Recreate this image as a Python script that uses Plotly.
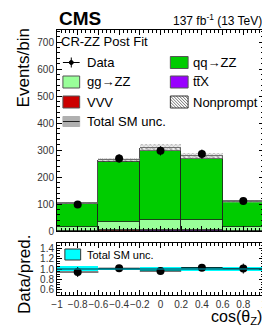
import numpy as np
import plotly.graph_objects as go

# ---- data ----
bin_edges = [-1.0, -0.6, -0.2, 0.2, 0.6, 1.0]
qq_zz = [86, 224, 255, 228, 92]
gg_zz = [13, 30, 38, 35, 13]
vvv = [0.5, 1, 2, 2, 0.5]
ttx = [0.5, 1, 2, 2, 0.5]
nonprompt = [4, 9, 12, 11, 4]
total_unc = [5, 7, 12, 12, 5]
data = [98, 269, 297, 285, 111]
data_err = [10, 16, 17, 17, 10.5]
xtick_vals = [-1, -0.8, -0.6, -0.4, -0.2, 0, 0.2, 0.4, 0.6, 0.8, 1]
xtick_text = ["\u22121", "\u22120.8", "\u22120.6", "\u22120.4", "\u22120.2", "0", "0.2", "0.4", "0.6", "0.8", "1"]

edges = np.array(bin_edges)
centers = 0.5 * (edges[1:] + edges[:-1])
widths = edges[1:] - edges[:-1]
total = np.array(qq_zz) + np.array(gg_zz) + np.array(vvv) + np.array(ttx) + np.array(nonprompt)
unc = np.array(total_unc)
ratio = np.array(data) / total
ratio_err = np.array(data_err) / total
ratio_unc = unc / total

FONT = "Liberation Sans, Arial, Helvetica, sans-serif"
C_QQ, C_GG, C_VVV, C_TTX, C_CYAN = "#00cc00", "#99ff99", "#cc0000", "#9900ff", "#00ffff"
fig = go.Figure()

line_dark = dict(color="#222222", width=0.8)

def stack_bar(y, color, pattern=None):
    fig.add_trace(go.Bar(
        x=centers, y=y, width=widths, showlegend=False,
        marker=dict(color=color, line=line_dark, pattern=pattern or {}),
        xaxis="x", yaxis="y", hoverinfo="skip"))

stack_bar(ttx, C_TTX)
stack_bar(vvv, C_VVV)
stack_bar(gg_zz, C_GG)
stack_bar(qq_zz, C_QQ)
stack_bar(nonprompt, "white",
          pattern=dict(shape="\\", fgcolor="#333333", bgcolor="white", size=4, solidity=0.3))

fig.add_trace(go.Bar(
    x=centers, y=2 * unc, base=total - unc, width=widths, showlegend=False,
    marker=dict(color="rgba(110,110,110,0.45)", line=dict(width=0),
                pattern=dict(shape="x", fgcolor="rgba(90,90,90,0.8)", bgcolor="rgba(200,200,200,0.3)",
                             size=3, solidity=0.4, fillmode="overlay")),
    xaxis="x", yaxis="y", hoverinfo="skip"))

fig.add_trace(go.Scatter(
    x=centers, y=data, mode="markers", showlegend=False,
    marker=dict(color="black", size=8),
    error_y=dict(type="data", array=data_err, color="black", thickness=1, width=0),
    xaxis="x", yaxis="y", hoverinfo="skip"))

# ratio panel
fig.add_trace(go.Bar(
    x=centers, y=2 * ratio_unc, base=1 - ratio_unc, width=widths, showlegend=False,
    marker=dict(color=C_CYAN, line=dict(width=0)),
    xaxis="x2", yaxis="y2", hoverinfo="skip"))
fig.add_trace(go.Scatter(
    x=centers, y=ratio, mode="markers", showlegend=False,
    marker=dict(color="black", size=8),
    error_y=dict(type="data", array=ratio_err, color="black", thickness=1, width=0),
    error_x=dict(type="data", array=widths / 2, color="black", thickness=1, width=0),
    xaxis="x2", yaxis="y2", hoverinfo="skip"))

# ---- hand-drawn legends (layout decorations in paper coordinates) ----
L, T, W, H = 49, 22, 210, 265   # plot area in pixels
def px(x):
    return (x - L) / W
def py(y):
    return (T + H - y) / H

shapes = [dict(type="line", xref="x2", yref="y2", x0=-1, x1=1, y0=1, y1=1,
               line=dict(color="#007080", width=1.5))]
annotations = []

def leg_text(x, y, text, size=13):
    annotations.append(dict(text=text, x=px(x), y=py(y), xref="paper", yref="paper",
                            xanchor="left", yanchor="middle", showarrow=False,
                            font=dict(family=FONT, size=size, color="black")))

def leg_box(x0, x1, yc, color, h=12, border="#555555"):
    shapes.append(dict(type="rect", xref="paper", yref="paper", x0=px(x0), x1=px(x1),
                       y0=py(yc + h / 2), y1=py(yc - h / 2), fillcolor=color,
                       line=dict(color=border, width=1)))

def leg_hatch(x0, x1, yc, h=12, step=3):
    ytop, ybot = yc - h / 2, yc + h / 2
    k = x0 - h
    while k < x1:
        # line direction "\" : from (k, ytop) to (k+h, ybot), clipped to box
        ax, ay, bx, by = k, ytop, k + h, ybot
        if ax < x0:
            ay += (x0 - ax); ax = x0
        if bx > x1:
            by -= (bx - x1); bx = x1
        if bx > ax:
            shapes.append(dict(type="line", xref="paper", yref="paper", x0=px(ax), y0=py(ay),
                               x1=px(bx), y1=py(by), line=dict(color="#333333", width=0.7)))
        k += step

rows = [54.5, 74, 94, 113.5]
LX0, LX1, LTX = 55, 72, 77
RX0, RX1, RTX = 164, 182, 185

leg_text(51, 33, "CR-ZZ Post Fit")
# Data
shapes.append(dict(type="line", xref="paper", yref="paper", x0=px(LX0), x1=px(LX1),
                   y0=py(rows[0]), y1=py(rows[0]), line=dict(color="black", width=1)))
shapes.append(dict(type="line", xref="paper", yref="paper", x0=px(63.5), x1=px(63.5),
                   y0=py(rows[0] - 5), y1=py(rows[0] + 5), line=dict(color="black", width=1)))
shapes.append(dict(type="circle", xref="paper", yref="paper", x0=px(61.5), x1=px(65.5),
                   y0=py(rows[0] + 2), y1=py(rows[0] - 2), fillcolor="black", line=dict(color="black", width=1)))
leg_text(LTX, rows[0], "Data")
leg_box(LX0, LX1, rows[1], C_GG)
leg_text(LTX, rows[1], "gg\u2192ZZ")
leg_box(LX0, LX1, rows[2], C_VVV)
leg_text(LTX, rows[2], "VVV")
leg_box(LX0, LX1, rows[3], "#b0b0b0", h=10, border="#b0b0b0")
shapes.append(dict(type="line", xref="paper", yref="paper", x0=px(LX0), x1=px(LX1),
                   y0=py(rows[3]), y1=py(rows[3]), line=dict(color="#222222", width=1)))
leg_text(LTX, rows[3], "Total SM unc.")

leg_box(RX0, RX1, rows[0], C_QQ)
leg_text(RTX, rows[0], "qq\u2192ZZ")
leg_box(RX0, RX1, rows[1], C_TTX)
leg_text(RTX, rows[1], "tt\u0305X")
leg_box(RX0, RX1, rows[2], "white", border="#333333")
leg_hatch(RX0, RX1, rows[2])
leg_text(RTX, rows[2], "Nonprompt")

# ratio legend
leg_box(57, 73, 246.5, C_CYAN, h=11, border="#333333")
leg_text(77, 246.5, "Total SM unc.", size=11)

axis_common = dict(showline=True, linecolor="black", linewidth=1, mirror="allticks",
                   ticks="inside", ticklen=5, tickcolor="black", showgrid=False, zeroline=False,
                   tickfont=dict(family=FONT, size=10, color="#333333"))

annotations += [
    dict(text="<b>CMS</b>", x=0, y=1.0, xref="paper", yref="paper", xanchor="left", yanchor="bottom",
         yshift=-1, showarrow=False, font=dict(family=FONT, size=19, color="black")),
    dict(text="137 fb<sup>-1</sup> (13 TeV)", x=1, y=1.0, xref="paper", yref="paper", xanchor="right",
         yanchor="bottom", showarrow=False, font=dict(family=FONT, size=12, color="black")),
    dict(text="Events/bin", textangle=-90, x=-0.16, y=1.015, xref="paper", yref="paper",
         xanchor="center", yanchor="top", showarrow=False, font=dict(family=FONT, size=17, color="black")),
    dict(text="Data/pred.", textangle=-90, x=-0.16, y=0.079, xref="paper", yref="paper",
         xanchor="center", yanchor="middle", showarrow=False, font=dict(family=FONT, size=17, color="black")),
    dict(text="cos(\u03b8<sub>Z</sub>)", x=1, y=-0.13, xref="paper", yref="paper",
         xanchor="right", yanchor="bottom", showarrow=False, font=dict(family=FONT, size=16, color="black")),
]

fig.update_layout(
    width=270, height=327, autosize=False,
    margin=dict(l=L, r=270 - L - W, t=T, b=327 - T - H),
    paper_bgcolor="white", plot_bgcolor="white",
    barmode="stack", bargap=0, showlegend=False,
    font=dict(family=FONT, color="black"),
    xaxis=dict(domain=[0, 1], range=[-1, 1], anchor="y", showticklabels=False,
               tickvals=xtick_vals,
               minor=dict(ticks="inside", ticklen=3, dtick=0.04, tick0=-1, tickcolor="black"),
               **axis_common),
    yaxis=dict(domain=[0.2415, 1], range=[0, 745], anchor="x", dtick=100, tick0=0,
               minor=dict(ticks="inside", ticklen=3, dtick=20, tickcolor="black"),
               **axis_common),
    xaxis2=dict(domain=[0, 1], range=[-1, 1], anchor="y2", tickvals=xtick_vals, ticktext=xtick_text,
                tickangle=0,
                minor=dict(ticks="inside", ticklen=3, dtick=0.04, tick0=-1, tickcolor="black"),
                **axis_common),
    yaxis2=dict(domain=[0, 0.196], range=[0.5, 1.5], anchor="x2",
                tickvals=[0.6, 0.8, 1.0, 1.2, 1.4], ticktext=["0.6", "0.8", "1.0", "1.2", "1.4"],
                minor=dict(ticks="inside", ticklen=3, dtick=0.05, tick0=0.5, tickcolor="black"),
                **axis_common),
    shapes=shapes,
    annotations=annotations,
)

fig.write_html("out.html")
